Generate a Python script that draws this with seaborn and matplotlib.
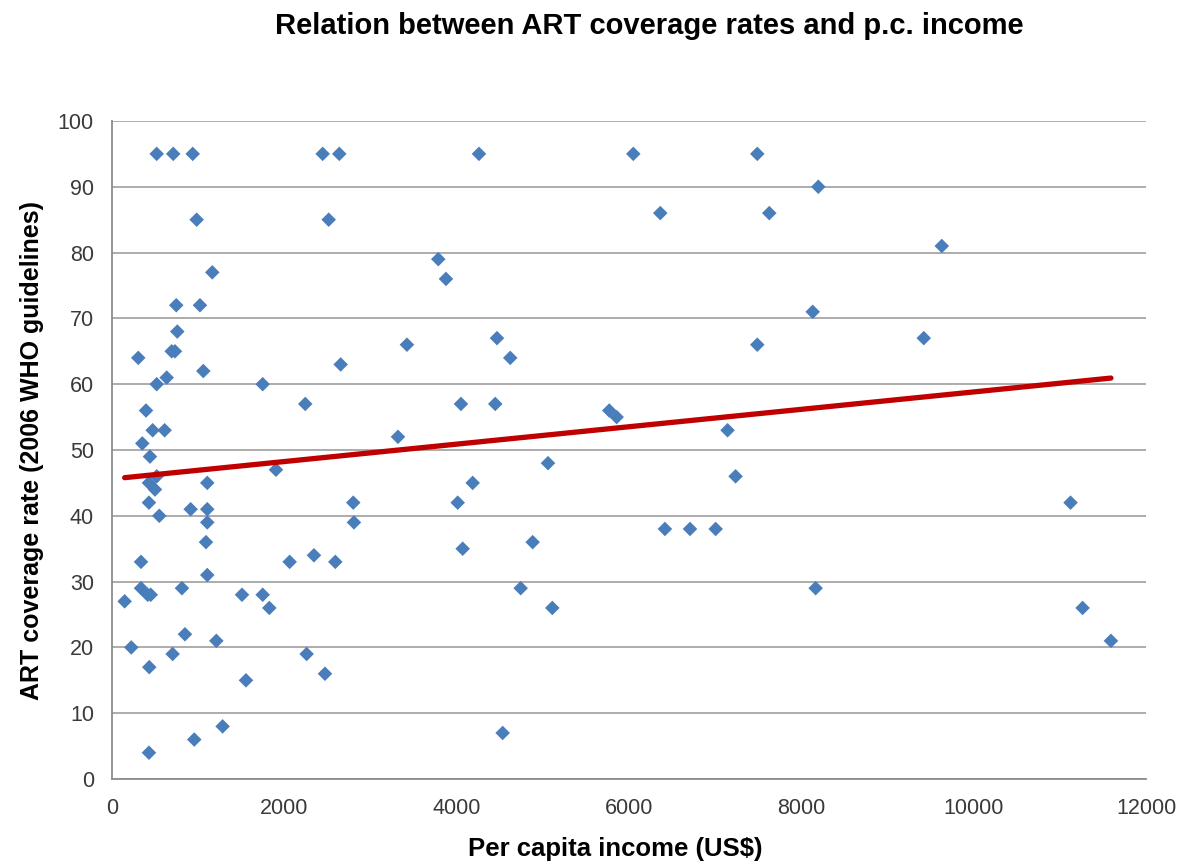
import pandas as pd
import numpy as np
import matplotlib.pyplot as plt
import seaborn as sns

# per capita income (US$) and ART coverage (%)
income = [519, 711, 937, 2445, 2638, 983, 2515, 1164, 746, 1021,
          758, 693, 731, 305, 2654, 1060, 635, 519, 1749, 2243,
          395, 472, 611, 352, 441, 519, 429, 499, 1106, 1903,
          429, 549, 913, 1106, 1106, 1091, 2800, 2808, 337, 1106,
          2062, 2344, 2592, 147, 337, 415, 450, 812, 1509, 1749,
          1826, 224, 847, 704, 1211, 433, 1555, 2259, 2472, 1284,
          955, 429, 4259, 6050, 6363, 3787, 3876, 3423, 4468, 4622,
          4050, 4448, 5771, 5857, 3319, 7144, 4012, 4186, 5060, 7237,
          4070, 4882, 6417, 6708, 7006, 4743, 5110, 4534, 7489, 8197,
          7628, 9630, 8132, 7489, 9421, 11124, 8166, 11264, 11593]
coverage = [95, 95, 95, 95, 95, 85, 85, 77, 72, 72,
            68, 65, 65, 64, 63, 62, 61, 60, 60, 57,
            56, 53, 53, 51, 49, 46, 45, 44, 45, 47,
            42, 40, 41, 41, 39, 36, 42, 39, 33, 31,
            33, 34, 33, 27, 29, 28, 28, 29, 28, 28,
            26, 20, 22, 19, 21, 17, 15, 19, 16, 8,
            6, 4, 95, 95, 86, 79, 76, 66, 67, 64,
            57, 57, 56, 55, 52, 53, 42, 45, 48, 46,
            35, 36, 38, 38, 38, 29, 26, 7, 95, 90,
            86, 81, 71, 66, 67, 42, 29, 26, 21]

df = pd.DataFrame({'income': income, 'coverage': coverage})

sns.set_style('white')
plt.rcParams['font.family'] = ['Liberation Sans', 'DejaVu Sans']
plt.rcParams['text.color'] = 'black'
plt.rcParams['axes.labelcolor'] = 'black'

fig = plt.figure(figsize=(11.95, 8.61), dpi=100)
ax = fig.add_axes([0.0937, 0.0952, 0.8653, 0.7643])

ax.grid(axis='y', color='#A6A6A6', linewidth=1.3)
ax.set_axisbelow(True)

sns.scatterplot(x='income', y='coverage', data=df, marker='D', s=55,
                color='#4A7EBB', edgecolor='none', ax=ax, zorder=3)

# linear trend line over the data range
slope, intercept = np.polyfit(df['income'], df['coverage'], 1)
xs = np.array([df['income'].min(), df['income'].max()])
sns.lineplot(x=xs, y=intercept + slope * xs, color='#C00000', linewidth=3.8,
             ax=ax, zorder=4)

ax.set_xlim(0, 12000)
ax.set_ylim(0, 100)
ax.set_xticks(range(0, 12001, 2000))
ax.set_yticks(range(0, 101, 10))

for side in ['top', 'right']:
    ax.spines[side].set_visible(False)
for side in ['left', 'bottom']:
    ax.spines[side].set_color('#8C8C8C')
    ax.spines[side].set_linewidth(1.3)

ax.tick_params(axis='both', which='both', direction='out', width=1.3,
               color='#8C8C8C', labelsize=15.5, labelcolor='#3A3A3A')
ax.tick_params(axis='y', length=4, pad=9)
ax.tick_params(axis='x', length=5, pad=9)

ax.set_xlabel('Per capita income (US$)', fontsize=18.5, fontweight='bold')
ax.xaxis.set_label_coords(0.487, -0.088)
ax.set_ylabel('ART coverage rate (2006 WHO guidelines)', fontsize=18,
              fontweight='bold')
ax.yaxis.set_label_coords(-0.066, 0.5)
fig.suptitle('Relation between ART coverage rates and p.c. income',
             fontsize=21, fontweight='bold', x=0.543, y=0.986)

plt.savefig('out.png', dpi=100)
plt.close()
